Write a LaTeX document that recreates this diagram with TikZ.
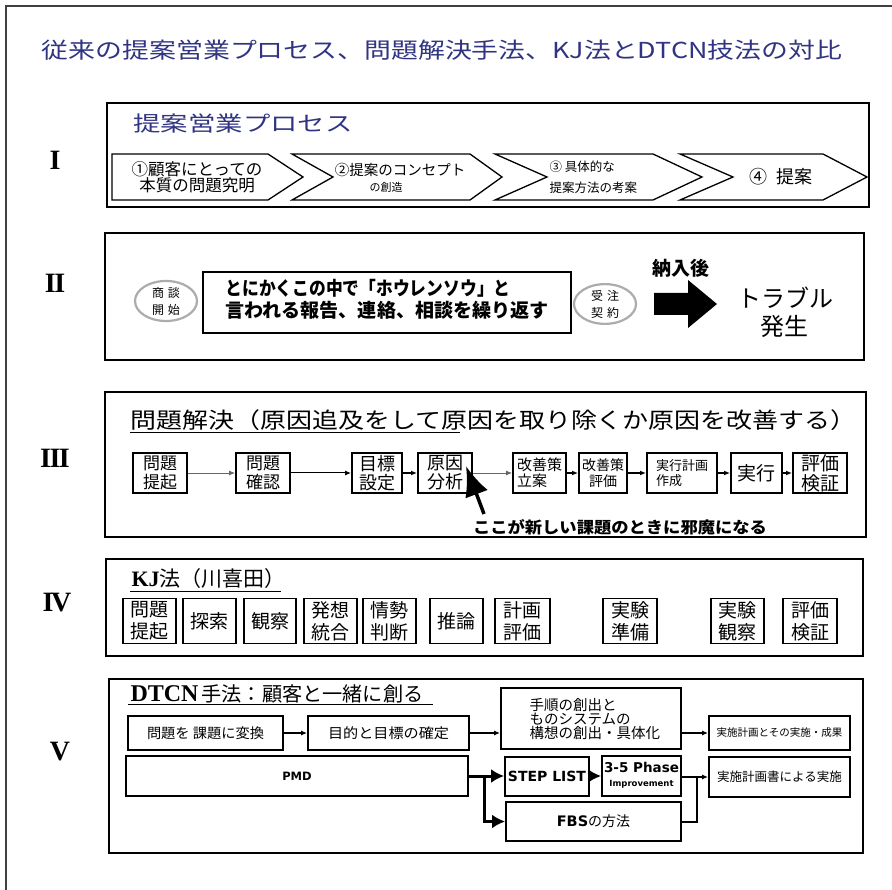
\documentclass[tikz,border=0pt]{standalone}
\usepackage{fontspec}
\setmainfont{Noto Sans CJK JP}
\newfontfamily\serifrm{Liberation Serif}
\newfontfamily\dejab{DejaVu Sans}
\usetikzlibrary{arrows.meta,shapes.geometric,calc}
\definecolor{navy}{RGB}{48,52,130}
\newcommand\fitw[2]{\resizebox{#1}{\height}{#2}}
\newcommand\fs[1]{\fontsize{#1}{#1}\selectfont}
\begin{document}
\begin{tikzpicture}[x=1pt,y=-1pt,
  secbox/.style={draw,line width=2.6pt},
  chev/.style={draw,line width=1.3pt,line join=miter},
  pbox/.style={draw,line width=2pt,minimum height=40pt,inner sep=0pt,align=center,font=\fontsize{17}{19}\selectfont},
  kbox/.style={draw,line width=1.6pt,minimum height=45pt,inner sep=0pt,align=center,font=\fontsize{19}{22}\selectfont},
  vbox/.style={draw,line width=1.8pt,inner sep=0pt,align=center},
  oval/.style={ellipse,draw=gray!65,line width=2.2pt,inner sep=0pt,align=center,font=\fontsize{12}{17}\selectfont},
  sarr/.style={line width=1.2pt,-{Latex[length=6pt,width=5pt]}},
  garr/.style={line width=0.8pt,draw=black!60,-{Latex[length=6pt,width=5pt]}},
  tarr/.style={line width=3pt,-{Latex[length=13pt,width=14pt]}},
  roman/.style={font=\serifrm\bfseries\fontsize{28}{28}\selectfont}
]
\useasboundingbox (0,0) rectangle (892,890);
\fill[white] (0,0) rectangle (892,890);
\draw[line width=2pt,black!75] (5.5,892) -- (5.5,6) -- (892,6);

% title
\node[text=navy,font=\fs{22}] (title) at (442,50) {\fitw{800pt}{従来の提案営業プロセス、問題解決手法、KJ法とDTCN技法の対比}};

% roman numerals
\node[roman] (r1) at (55,160) {I};
\node[roman] (r2) at (55,283) {I\kern-1.5pt I};
\node[roman] (r3) at (55,458) {I\kern-1.5pt I\kern-1.5pt I};
\node[roman] (r4) at (57,603) {I\kern-2.5pt V};
\node[roman] (r5) at (60,752) {V};

% ---------- Section I
\draw[secbox] (107,103) rectangle (869,207);
\node[text=navy,font=\fs{21}] (t1) at (243,124) {\fitw{219pt}{提案営業プロセス}};
\draw[chev] (112,154) -- (268,154) -- (303,177) -- (268,200) -- (112,200) -- cycle;
\draw[chev] (292,154) -- (470,154) -- (502,177) -- (470,200) -- (292,200) -- (333,177) -- cycle;
\draw[chev] (495,154) -- (653,154) -- (702,177) -- (653,200) -- (495,200) -- (547,177) -- cycle;
\draw[chev] (680,154) -- (823,154) -- (867,177) -- (823,200) -- (680,200) -- (733,177) -- cycle;
\node[align=center,font=\fontsize{16.5}{16}\selectfont] (c1) at (197,177) {①顧客にとっての\\本質の問題究明};
\node[font=\fs{14.5}] (c2a) at (400,170) {②提案のコンセプト};
\node[font=\fs{11}] (c2b) at (386,187) {の創造};
\node[anchor=west,font=\fs{12.5}] (c3a) at (546,167) {③ 具体的な};
\node[anchor=west,font=\fs{12.5}] (c3b) at (546,188) {提案方法の考案};
\node[font=\fs{18}] (c4) at (781,177) {④\hspace{9pt}提案};

% ---------- Section II
\draw[secbox] (105,233) rectangle (864,360);
\node[oval,minimum width=62pt,minimum height=40pt] (e1) at (166,301) {商\hspace{4pt}談\\開\hspace{4pt}始};
\node[draw,line width=1.5pt,minimum width=368pt,minimum height=61pt,inner sep=0pt] (hr) at (387,302.5) {};
\node[anchor=west,align=left,font=\bfseries\fontsize{19}{22}\selectfont] (ht) at (222,299)
  {\fitw{285pt}{とにかくこの中で「ホウレンソウ」と}\\\fitw{323pt}{言われる報告、連絡、相談を繰り返す}};
\node[oval,minimum width=62pt,minimum height=36pt] (e2) at (605,304) {受\hspace{4pt}注\\契\hspace{4pt}約};
\node[font=\bfseries\fs{19}] (nyu) at (681,268) {納入後};
\fill (654,293) -- (688,293) -- (688,280) -- (717,304) -- (688,328) -- (688,315) -- (654,315) -- cycle;
\node[font=\fs{24}] (tr1) at (785,298) {\fitw{96pt}{トラブル}};
\node[font=\fs{24}] (tr2) at (784,326) {発生};

% ---------- Section III
\draw[secbox] (105,392) rectangle (866,537);
\node[anchor=west,font=\fs{22}] (t3) at (127,420) {\fitw{726pt}{問題解決（原因追及をして原因を取り除くか原因を改善する）}};
\draw[line width=1pt] (130,433) -- (460,433);
\node[pbox,minimum width=54pt] (p1) at (160,473) {問題\\提起};
\node[pbox,minimum width=54pt] (p2) at (263,473) {問題\\確認};
\node[pbox,minimum width=50pt,font=\fontsize{18}{19}\selectfont] (p3) at (377,473) {目標\\設定};
\node[pbox,minimum width=54pt,font=\fontsize{18}{19}\selectfont] (p4) at (445,473) {原因\\分析};
\node[pbox,minimum width=53pt,align=left,font=\fontsize{15}{16}\selectfont] (p5) at (539.5,473) {改善策\\立案};
\node[pbox,minimum width=48pt,font=\fontsize{14}{16}\selectfont] (p6) at (603,473) {改善策\\評価};
\node[pbox,minimum width=70pt,align=left,font=\fontsize{13}{15}\selectfont] (p7) at (682,473) {実行計画\\作成};
\node[pbox,minimum width=51pt,font=\fs{19}] (p8) at (756.5,473) {実行};
\node[pbox,minimum width=54pt,font=\fontsize{19}{20}\selectfont] (p9) at (820,473) {評価\\検証};
\draw[garr] (p1) -- (p2);
\draw[sarr,line width=1pt] (p2) -- (p3);
\draw[sarr] (p3) -- (p4);
\draw[garr] (p4) -- (p5);
\draw[sarr] (p5) -- (p6);
\draw[sarr] (p6) -- (p7);
\draw[sarr] (p7) -- (p8);
\draw[sarr] (p8) -- (p9);
\node[font=\bfseries\fs{16}] (note) at (620,527) {\fitw{294pt}{ここが新しい課題のときに邪魔になる}};
\coordinate (ptail) at (484,514);
\coordinate (ptip) at (466,466);
\draw[line width=3.5pt,-{Latex[length=30pt,width=24pt]}] (ptail) -- (ptip);

% ---------- Section IV
\draw[secbox] (106,559) rectangle (863,656);
\node[anchor=west] (t4) at (128,579) {{\serifrm\bfseries\fontsize{22}{22}\selectfont KJ}{\fs{21}法（川喜田）}};
\draw[line width=1pt] (130,591) -- (281,591);
\node[kbox,minimum width=53pt] (k1) at (149.5,621) {問題\\提起};
\node[kbox,minimum width=53pt] (k2) at (209.5,621) {探索};
\node[kbox,minimum width=52pt] (k3) at (270,621) {観察};
\node[kbox,minimum width=53pt] (k4) at (330.5,621) {発想\\統合};
\node[kbox,minimum width=53pt] (k5) at (389.5,621) {情勢\\判断};
\node[kbox,minimum width=53pt] (k6) at (456.5,621) {推論};
\node[kbox,minimum width=55pt] (k7) at (522.5,621) {計画\\評価};
\node[kbox,minimum width=54pt] (k8) at (630,621) {実験\\準備};
\node[kbox,minimum width=53pt] (k9) at (737.5,621) {実験\\観察};
\node[kbox,minimum width=54pt] (k10) at (810,621) {評価\\検証};

% ---------- Section V
\draw[secbox] (109,679) rectangle (863,853);
\node[anchor=west] (t5) at (127,694) {{\serifrm\bfseries\fontsize{24}{24}\selectfont DTCN}\hspace{3pt}{\fs{20}\fitw{222pt}{手法：顧客と一緒に創る}}};
\draw[line width=1pt] (128,704) -- (433,704);
\node[vbox,minimum width=155pt,minimum height=34pt,font=\fs{14}] (v1) at (205.5,733) {\fitw{117pt}{問題を 課題に変換}};
\node[vbox,minimum width=161pt,minimum height=34pt,font=\fs{14}] (v2) at (388.5,733) {\fitw{121pt}{目的と目標の確定}};
\node[vbox,minimum width=180pt,minimum height=61pt] (v3) at (591,718.5) {};
\node[anchor=west,align=left,font=\fontsize{14.5}{14}\selectfont] (v3t) at (526,719) {手順の創出と\\ものシステムの\\構想の創出・具体化};
\node[vbox,minimum width=141pt,minimum height=34pt,font=\fs{10.5}] (v4) at (779.5,733) {実施計画とその実施・成果};
\node[vbox,minimum width=342pt,minimum height=40pt,font=\dejab\bfseries\fs{11.5}] (pmd) at (297,776) {PMD};
\node[vbox,minimum width=84pt,minimum height=39pt,font=\dejab\bfseries\fs{14}] (step) at (547,776.5) {STEP LIST};
\node[vbox,minimum width=79pt,minimum height=40pt] (ph) at (641.5,776) {};
\node[font=\dejab\bfseries\fs{13.5}] (ph1) at (641.5,767) {3-5 Phase};
\node[font=\dejab\bfseries\fs{8.5}] (ph2) at (641.5,784) {Improvement};
\node[vbox,minimum width=175pt,minimum height=39pt] (fbs) at (593.5,821.5) {{\dejab\bfseries\fs{14.5}FBS}{\fs{14}の方法}};
\node[vbox,minimum width=141pt,minimum height=40pt,font=\fs{12.5}] (v5) at (779.5,777) {実施計画書による実施};
\draw[sarr,line width=1.5pt] (v1) -- (v2);
\draw[sarr,line width=1.5pt] (v2.east) -- (v2.east -| v3.west);
\draw[sarr,line width=1.5pt] (v3.east |- v4.west) -- (v4.west);
\coordinate (br) at (484,776);
\draw[tarr] (pmd.east) -- (pmd.east -| step.west);
\draw[tarr] (br) |- (fbs.west);
\draw[tarr] (step.east |- ph.west) -- (ph.west);
\coordinate (mg) at (697,777);
\draw[line width=2pt] (fbs.east) -| (mg);
\draw[sarr,line width=1.5pt] (ph.east |- v5.west) -- (v5.west);
\end{tikzpicture}
\end{document}
